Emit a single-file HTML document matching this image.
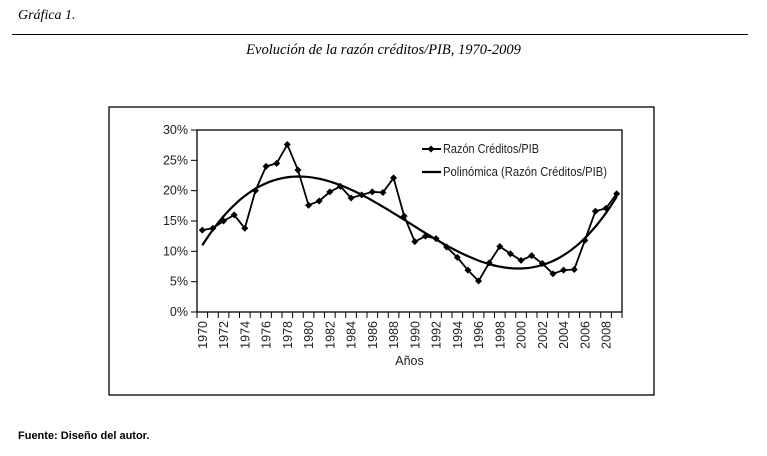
<!DOCTYPE html>
<html><head><meta charset="utf-8"><style>
body{margin:0;background:#fff;width:767px;height:456px;overflow:hidden;position:relative;font-family:"Liberation Sans",sans-serif}
.t{position:absolute;white-space:nowrap}
</style></head><body>
<div class="t" style="left:18px;top:8px;font:italic 14px 'Liberation Serif',serif">Gráfica 1.</div>
<div style="position:absolute;left:12px;top:34px;width:736px;height:1px;background:#000"></div>
<div class="t" style="left:0;width:767px;text-align:center;top:42px;font:italic 14.5px 'Liberation Serif',serif">Evolución de la razón créditos/PIB, 1970-2009</div>
<div class="t" style="left:18px;top:430px;font:bold 11px 'Liberation Sans',sans-serif">Fuente: Diseño del autor.</div>
<svg width="767" height="456" style="position:absolute;left:0;top:0;font-family:'Liberation Sans',sans-serif" id="c"></svg>
<script>
const years=[];for(let y=1970;y<=2009;y++)years.push(y);
const ratio=[13.5,13.8,15,16,13.8,20,24,24.5,27.6,23.4,17.6,18.3,19.8,20.7,18.8,19.3,19.8,19.7,22.1,15.8,11.6,12.5,12.1,10.7,9,6.9,5.1,8.1,10.8,9.6,8.5,9.3,8,6.3,6.9,7,11.8,16.6,17.1,19.5];
const yTicks=[0,5,10,15,20,25,30];
const NS="http://www.w3.org/2000/svg",svg=document.getElementById('c');
const L=197,R=622,T=130,B=312,step=(R-L)/years.length;
const X=i=>L+step*(i+0.5),Y=v=>B-(v/30)*(B-T);
function mk(t,a,p){const e=document.createElementNS(NS,t);for(const k in a)e.setAttribute(k,a[k]);(p||svg).appendChild(e);return e;}
let e=mk('rect',{x:109,y:107,width:545,height:288,fill:'none',stroke:'#000','stroke-width':1.3});

e=mk('rect',{x:L,y:T,width:R-L,height:B-T,fill:'none',stroke:'#000','stroke-width':1.3});

yTicks.forEach(v=>{mk('line',{x1:L-6,x2:L,y1:Y(v),y2:Y(v),stroke:'#000'});
 const t=mk('text',{x:L-9,y:Y(v)+4,'text-anchor':'end','font-size':12.5,fill:'#222'});t.textContent=v+'%';
 });
for(let i=0;i<=years.length;i++)mk('line',{x1:L+step*i,x2:L+step*i,y1:B,y2:B+6,stroke:'#000'});
years.forEach((y,i)=>{if(y%2)return;const t=mk('text',{transform:`translate(${X(i)+4.5},${B+9}) rotate(-90)`,'text-anchor':'end','font-size':12.5,fill:'#222'});t.textContent=y;
 });
e=mk('text',{x:(L+R)/2,y:365,'text-anchor':'middle','font-size':12.5,fill:'#222'});e.textContent='Años';

const n=years.length,xs=years.map((y,i)=>(i-(n-1)/2)/10),D=4;
const A=[];for(let r=0;r<D;r++){A.push([]);for(let c=0;c<D;c++)A[r].push(xs.reduce((s,x)=>s+Math.pow(x,r+c),0));A[r].push(xs.reduce((s,x,i)=>s+Math.pow(x,r)*ratio[i],0));}
for(let i=0;i<D;i++){for(let j=i+1;j<D;j++){const f=A[j][i]/A[i][i];for(let k=i;k<=D;k++)A[j][k]-=f*A[i][k];}}
const co=Array(D).fill(0);for(let i=D-1;i>=0;i--){let s=A[i][D];for(let k=i+1;k<D;k++)s-=A[i][k]*co[k];co[i]=s/A[i][i];}
let d='';for(let k=0;k<=100;k++){const fi=k/100*(n-1),x=(fi-(n-1)/2)/10;let v=0;for(let p=0;p<D;p++)v+=co[p]*Math.pow(x,p);d+=(k?'L':'M')+(L+step*(fi+0.5)).toFixed(1)+','+Y(v).toFixed(1);}
e=mk('path',{d,fill:'none',stroke:'#000','stroke-width':2.2});

e=mk('polyline',{points:ratio.map((v,i)=>X(i)+','+Y(v)).join(' '),fill:'none',stroke:'#000','stroke-width':1.8});

ratio.forEach((v,i)=>{const m=mk('path',{d:`M${X(i)},${Y(v)-3.5}l3.5,3.5l-3.5,3.5l-3.5,-3.5z`,fill:'#000'});
 });
mk('line',{x1:422,x2:441,y1:149,y2:149,stroke:'#000','stroke-width':2});mk('path',{d:'M431,145.5l3.5,3.5l-3.5,3.5l-3.5,-3.5z'});
e=mk('text',{x:443,y:153,'font-size':12.5,fill:'#222',textLength:96,lengthAdjust:'spacingAndGlyphs'});e.textContent='Razón Créditos/PIB';

mk('line',{x1:422,x2:441,y1:172,y2:172,stroke:'#000','stroke-width':2.2});
e=mk('text',{x:443,y:176,'font-size':12.5,fill:'#222',textLength:164,lengthAdjust:'spacingAndGlyphs'});e.textContent='Polinómica (Razón Créditos/PIB)';

</script>
</body></html>
